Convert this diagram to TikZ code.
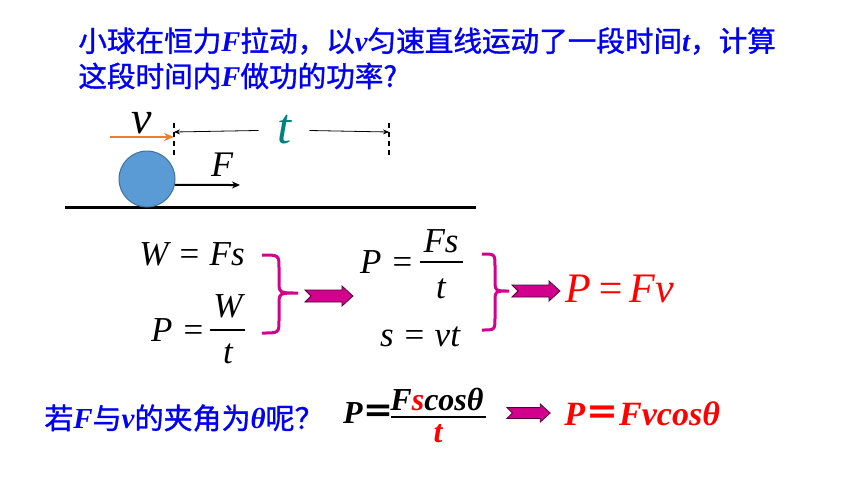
\documentclass[tikz,border=0pt]{standalone}
\usepackage{fontspec}
\setmainfont{Liberation Serif}
\newfontfamily\cjk{Noto Sans CJK SC}
\newfontfamily\cjkq[FakeBold=1.2]{Noto Sans CJK SC}
\usetikzlibrary{positioning}
\usetikzlibrary{arrows.meta}

\definecolor{titleblue}{RGB}{0,0,245}
\definecolor{bracepink}{RGB}{210,0,140}
\definecolor{arrowedge}{RGB}{80,0,50}
\definecolor{ballfill}{RGB}{91,155,213}
\definecolor{balledge}{RGB}{65,113,156}
\definecolor{vorange}{RGB}{237,125,49}
\definecolor{tteal}{RGB}{0,128,128}

% Latin letters inside the Chinese lines
\newcommand{\va}[1]{{\rmfamily\bfseries\itshape #1}}
\newcommand{\fatarrow}[2]{%
  \begin{scope}[shift={(#1)}, scale=#2]
    \filldraw[fill=bracepink, draw=arrowedge, line width=0.4pt]
      (0,-6) -- (37,-6) -- (37,-10) -- (48,0) -- (37,10) -- (37,6) -- (0,6) -- (6,0) -- cycle;
  \end{scope}}
% right curly brace: top end, bottom end, x of the stem, x of the tip
\newcommand{\curlybrace}[4]{%
  \draw[curly] (#1) .. controls (#3,\ya) .. ($(#3,\ya)+(0,13)$) -- ($(#3,\ym)+(0,-12)$)
    .. controls (#3,\ym) .. (#4,\ym) .. controls (#3,\ym) .. ($(#3,\ym)+(0,12)$)
    -- ($(#3,\yb)+(0,-13)$) .. controls (#3,\yb) .. (#2);}
\usetikzlibrary{calc}

\tikzset{
  question/.style={font=\cjkq\fontsize{14.3}{17}\selectfont, text=titleblue, inner sep=0pt, anchor=west},
  eq/.style={font=\fontsize{17.5}{20}\selectfont\itshape, inner sep=0pt},
  boldeq/.style={font=\fontsize{16}{19}\selectfont\bfseries\itshape, inner sep=0pt},
  bar/.style={line width=0.7pt},
  curly/.style={draw=bracepink, line width=1.5pt},
  dashmark/.style={dashed, dash pattern=on 2.5pt off 2pt, line width=0.7pt},
  span/.style={line width=0.4pt, -{Stealth[length=3pt, width=2.5pt]}}
}

\begin{document}
\begin{tikzpicture}[x=0.5pt, y=-0.5pt]
  \useasboundingbox (0,0) rectangle (860,484);

  % question
  \node[question] (q1) at (78,41) {小球在恒力\va{F}拉动，以\va{v}匀速直线运动了一段时间\va{t}，计算};
  \node[question] (q2) at (78,76) {这段时间内\va{F}做功的功率?};

  % ball on the ground
  \coordinate (gl) at (65,207);
  \coordinate (gr) at (476,207);
  \draw[line width=1.5pt] (gl) -- (gr);
  \node[circle, minimum size=28pt, inner sep=0pt, fill=ballfill, draw=balledge, line width=0.5pt] (ball) at (147,179) {};

  \coordinate (vstart) at (110,137);
  \coordinate (vtip) at (174,137);
  \draw[vorange, line width=1.4pt, -{Stealth[length=5pt, width=4pt]}] (vstart) -- (vtip);
  \node[font=\fontsize{23}{25}\selectfont\itshape, inner sep=0pt] (vlab) at (142,123) {v};

  \coordinate (Ftip) at (240,185);
  \draw[line width=1pt, -{Stealth[length=4pt, width=3.5pt]}] (ball.-12) -- (Ftip);
  \node[font=\fontsize{18}{20}\selectfont\itshape, inner sep=0pt] (Flab) at (222,165) {F};

  % time span
  \coordinate (tl) at (174,132);
  \coordinate (tr) at (389,132);
  \draw[dashmark] (174,123) -- (174,158);
  \draw[dashmark] (389,123) -- (389,158);
  \node[font=\fontsize{25}{27}\selectfont\itshape, text=tteal, minimum width=25pt, inner sep=0pt] (tlab) at (284,130) {t};
  \draw[span] (tlab) -- (tl);
  \draw[span] (tlab) -- (tr);

  % W = Fs and P = W/t
  \node[eq] (wfs) at (192,254) {W = Fs};
  \node[eq] (p1) at (178,330) {P =};
  \coordinate (bar1l) at (210,330);
  \coordinate (bar1r) at (245,330);
  \draw[bar] (bar1l) -- (bar1r);
  \node[eq] (w1) at (228,306) {W};
  \node[eq] (t1) at (228,354) {t};

  \coordinate (b1top) at (262,255);
  \coordinate (b1bot) at (262,333);
  \def\ya{255}\def\ym{293}\def\yb{333}
  \curlybrace{b1top}{b1bot}{279}{298}
  \coordinate (a1) at (305,296);
  \fatarrow{a1}{1}

  % P = Fs/t and s = vt
  \node[eq] (p2) at (387,262) {P =};
  \coordinate (bar2l) at (420,262);
  \coordinate (bar2r) at (463,262);
  \draw[bar] (bar2l) -- (bar2r);
  \node[eq] (fs2) at (441,241) {Fs};
  \node[eq] (t2) at (441,289) {t};
  \node[eq] (svt) at (420,337) {s = vt};

  \coordinate (b2top) at (482,254);
  \coordinate (b2bot) at (482,330);
  \def\ya{254}\def\ym{291}\def\yb{330}
  \curlybrace{b2top}{b2bot}{495}{509}
  \coordinate (a2) at (512,291);
  \fatarrow{a2}{1}

  \node[eq, font=\fontsize{21}{24}\selectfont\itshape, text=red, anchor=west] (pfv) at (565,289) {P\hspace{0.12em}=\hspace{0.12em}Fv};

  % with an angle
  \node[question, font=\cjkq\fontsize{14.5}{17}\selectfont] (q3) at (44,418) {若\va{F}与\va{v}的夹角为\va{θ}呢？};
  \node[boldeq, anchor=east] (p3) at (395,413) {P{\cjk\bfseries ＝}};
  \coordinate (bar3l) at (391,417);
  \coordinate (bar3r) at (486,417);
  \draw[bar] (bar3l) -- (bar3r);
  \node[boldeq] (num3) at (437,399) {F\textcolor{red}{s}cosθ};
  \node[boldeq, text=red] (t3) at (438,434) {t};
  \coordinate (a3) at (507,413);
  \fatarrow{a3}{0.9}
  \node[boldeq, font=\fontsize{17}{20}\selectfont\bfseries\itshape, text=red, anchor=west] (pfvc) at (564,414) {P{\cjk\bfseries ＝}Fvcosθ};
\end{tikzpicture}
\end{document}
